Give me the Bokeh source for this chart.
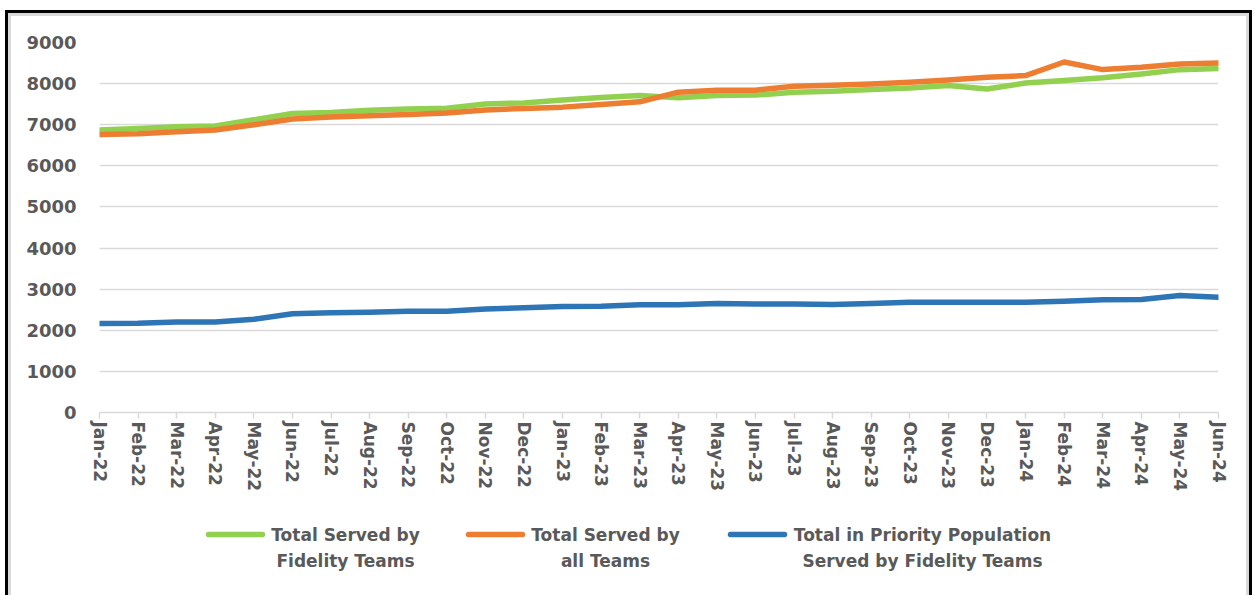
from bokeh.plotting import figure
from bokeh.models import Range1d, FixedTicker
from bokeh.layouts import column
from bokeh.core.properties import value
from bokeh.embed import file_html
from bokeh.resources import INLINE

months = ["Jan-22", "Feb-22", "Mar-22", "Apr-22", "May-22", "Jun-22", "Jul-22", "Aug-22",
          "Sep-22", "Oct-22", "Nov-22", "Dec-22", "Jan-23", "Feb-23", "Mar-23", "Apr-23",
          "May-23", "Jun-23", "Jul-23", "Aug-23", "Sep-23", "Oct-23", "Nov-23", "Dec-23",
          "Jan-24", "Feb-24", "Mar-24", "Apr-24", "May-24", "Jun-24"]

fidelity_total = [6872, 6910, 6950, 6968, 7120, 7275, 7300, 7350, 7380, 7400,
                  7505, 7530, 7600, 7660, 7710, 7655, 7710, 7720, 7790, 7815,
                  7855, 7895, 7955, 7870, 8015, 8075, 8140, 8235, 8340, 8365]

all_teams_total = [6760, 6780, 6830, 6870, 7000, 7138, 7190, 7220, 7250, 7283,
                   7356, 7397, 7428, 7494, 7557, 7792, 7840, 7840, 7937, 7961,
                   7993, 8034, 8090, 8155, 8196, 8525, 8341, 8397, 8477, 8501]

priority_total = [2162, 2170, 2200, 2200, 2266, 2404, 2428, 2436, 2460, 2460,
                  2520, 2545, 2577, 2585, 2618, 2618, 2650, 2642, 2642, 2626,
                  2650, 2683, 2683, 2683, 2683, 2707, 2740, 2748, 2846, 2805]

y_ticks = [0, 1000, 2000, 3000, 4000, 5000, 6000, 7000, 8000, 9000]

legend_line1 = ["Total Served by", "Total Served by", "Total in Priority Population"]
legend_line2 = ["Fidelity Teams", "all Teams", "Served by Fidelity Teams"]
series_colors = ["#92D050", "#ED7D31", "#2E75B6"]

TEXT_GREY = "#595959"
GRID_GREY = "#d9d9d9"
W = 1235
H_MAIN = 478
H_LEG = 101
FRAME_LEFT, FRAME_RIGHT = 99, 1218   # page pixels of the plotting frame

x = list(range(len(months)))

p = figure(width=W, height=H_MAIN, x_range=Range1d(0, len(months) - 1),
           y_range=Range1d(0, 9000), output_backend="svg", toolbar_location=None,
           min_border_left=88, min_border_right=28, min_border_top=26,
           min_border_bottom=82)
p.background_fill_color = "white"
p.border_fill_color = "white"
p.outline_line_color = None

for ys, c in zip([fidelity_total, all_teams_total, priority_total], series_colors):
    p.line(x, ys, line_color=c, line_width=5.5, line_join="round", line_cap="round")

p.xgrid.grid_line_color = None
p.ygrid.grid_line_color = GRID_GREY
p.ygrid.grid_line_width = 1.5

p.yaxis.ticker = FixedTicker(ticks=y_ticks)
p.yaxis.axis_line_color = None
p.yaxis.major_tick_line_color = None
p.yaxis.minor_tick_line_color = None
p.yaxis.major_label_standoff = 17
p.yaxis.major_label_text_font = "DejaVu Sans"
p.yaxis.major_label_text_font_style = "bold"
p.yaxis.major_label_text_font_size = "18px"
p.yaxis.major_label_text_color = TEXT_GREY

p.xaxis.ticker = FixedTicker(ticks=x)
p.xaxis.major_label_overrides = {i: m for i, m in zip(x, months)}
p.xaxis.major_label_orientation = "vertical"
p.xaxis.axis_line_color = GRID_GREY
p.xaxis.axis_line_width = 1.5
p.xaxis.major_tick_line_color = GRID_GREY
p.xaxis.major_tick_line_width = 1.5
p.xaxis.major_tick_out = 6
p.xaxis.major_tick_in = 0
p.xaxis.minor_tick_line_color = None
p.xaxis.major_label_standoff = 3
p.xaxis.major_label_text_font = "DejaVu Sans"
p.xaxis.major_label_text_font_style = "bold"
p.xaxis.major_label_text_font_size = "17px"
p.xaxis.major_label_text_color = TEXT_GREY

# legend panel: its frame is aligned with the chart frame, x in page pixels, y from its top
lg = figure(width=W, height=H_LEG, x_range=Range1d(FRAME_LEFT, FRAME_RIGHT),
            y_range=Range1d(H_LEG, 0), output_backend="svg", toolbar_location=None,
            min_border=0)
lg.axis.visible = False
lg.grid.visible = False
lg.outline_line_color = None
lg.background_fill_color = "white"
lg.border_fill_color = "white"

item_starts = [208, 468, 730]
text_centers = [137, 137, 192]
glyph_w = 54
row1, row2 = 40, 66
lg.segment(x0=item_starts, y0=[row1] * 3,
           x1=[s + glyph_w for s in item_starts], y1=[row1] * 3,
           line_color=series_colors, line_width=5.5, line_cap="round")
for rows, labels in ((row1, legend_line1), (row2, legend_line2)):
    lg.text(x=[s + c for s, c in zip(item_starts, text_centers)],
            y=[rows] * 3, text=labels, text_align="center", text_baseline="middle",
            text_font=value("DejaVu Sans"), text_font_style="bold",
            text_font_size="17px", text_color=TEXT_GREY)

layout = column(p, lg, spacing=0)
layout.styles = {"margin-left": "8px", "margin-top": "13px",
                 "border": "3px solid " + GRID_GREY, "border-bottom": "none",
                 "outline": "3px solid black", "background-color": "white"}

open("out.html", "w").write(file_html(layout, INLINE))
